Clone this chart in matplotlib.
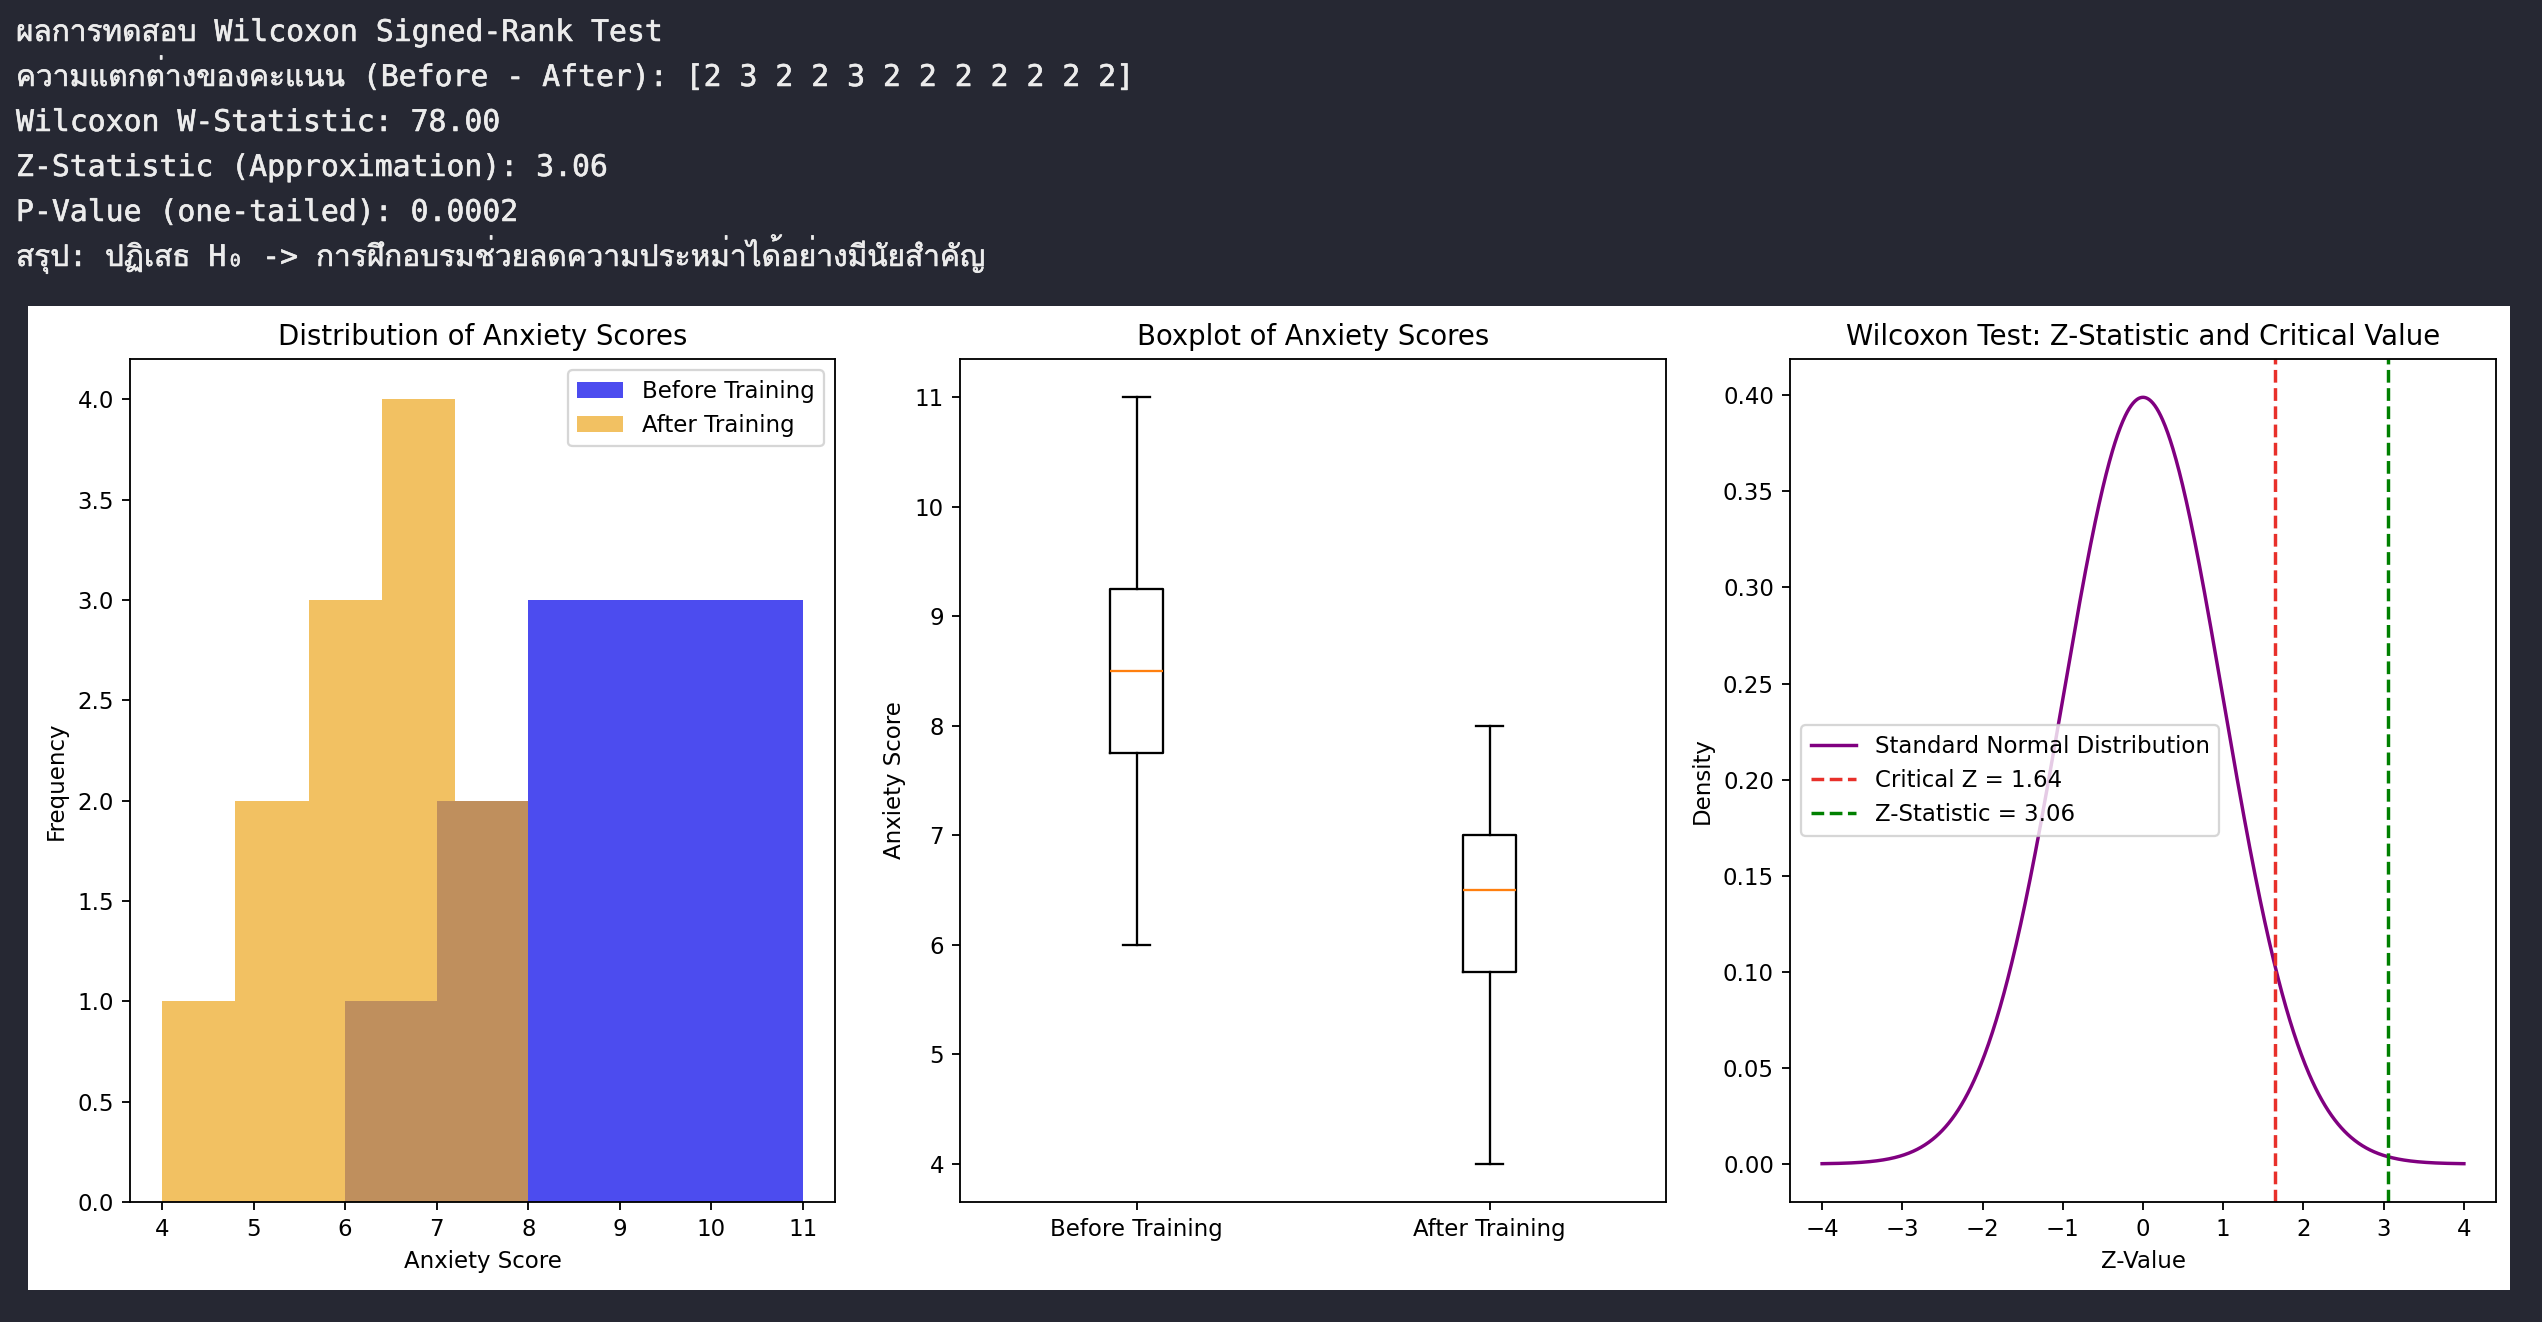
import numpy as np
import matplotlib
matplotlib.use("Agg")
import matplotlib.pyplot as plt
import matplotlib.patheffects as pe
from matplotlib import font_manager
from matplotlib.ft2font import FT2Font
from matplotlib.patches import Rectangle

# anxiety scores of the 12 participants
before = np.array([8, 10, 7, 9, 11, 8, 9, 6, 10, 8, 7, 9])
after = np.array([6, 7, 5, 7, 8, 6, 7, 4, 8, 6, 5, 7])
group_labels = ["Before Training", "After Training"]

w_stat = 78.00
z_stat = 3.06
z_crit = 1.64
p_value = 0.0002

# find a font that can draw Thai, used as fallback for the console text
thai_family = None
for f in font_manager.fontManager.ttflist:
    try:
        if 0x0E01 in FT2Font(f.fname).get_charmap():
            thai_family = f.name
            break
    except Exception:
        pass
mono = ["DejaVu Sans Mono"] + ([thai_family] if thai_family else [])

W, H, DPI = 2542, 1322, 165
fig = plt.figure(figsize=(W / DPI, H / DPI), dpi=DPI)
fig.patch.set_facecolor("#262833")

# white figure block
fig.add_artist(Rectangle((28 / W, 1 - 1290 / H), (2510 - 28) / W, (1290 - 306) / H,
                         transform=fig.transFigure, facecolor="white", edgecolor="none", zorder=0))

# console output
diff = before - after
lines = [
    "ผลการทดสอบ Wilcoxon Signed-Rank Test",
    "ความแตกต่างของคะแนน (Before - After): [" + " ".join(str(d) for d in diff) + "]",
    "Wilcoxon W-Statistic: %.2f" % w_stat,
    "Z-Statistic (Approximation): %.2f" % z_stat,
    "P-Value (one-tailed): %.4f" % p_value,
    "สรุป: ปฏิเสธ H₀ -> การฝึกอบรมช่วยลดความประหม่าได้อย่างมีนัยสำคัญ",
]
for i, s in enumerate(lines):
    fig.text(16 / W, 1 - (41 + 45 * i) / H, s, color="#ececec", fontsize=13,
             family=mono, va="baseline", ha="left",
             path_effects=[pe.withStroke(linewidth=0.25, foreground="#ececec")])


def rect(l, r, t=359, b=1202):
    return [l / W, 1 - b / H, (r - l) / W, (b - t) / H]


# ---------- histogram ----------
ax1 = fig.add_axes(rect(130, 835))
ax1.hist(before, bins=5, alpha=0.7, color="#0000e9", label="Before Training")
ax1.hist(after, bins=5, alpha=0.72, color="#edaa25", label="After Training")
ax1.set_title("Distribution of Anxiety Scores")
ax1.set_xlabel("Anxiety Score")
ax1.set_ylabel("Frequency")
ax1.legend(loc="upper right")

# ---------- boxplot ----------
ax2 = fig.add_axes(rect(960, 1666))
ax2.boxplot([before, after], tick_labels=group_labels)
ax2.set_title("Boxplot of Anxiety Scores")
ax2.set_ylabel("Anxiety Score")

# ---------- normal curve ----------
ax3 = fig.add_axes(rect(1790, 2496))
z = np.linspace(-4, 4, 1000)
pdf = np.exp(-z ** 2 / 2) / np.sqrt(2 * np.pi)
ax3.plot(z, pdf, color="purple", label="Standard Normal Distribution")
ax3.axvline(z_crit, color="#e8302a", linestyle="--", label="Critical Z = %.2f" % z_crit)
ax3.axvline(z_stat, color="green", linestyle="--", label="Z-Statistic = %.2f" % z_stat)
ax3.set_title("Wilcoxon Test: Z-Statistic and Critical Value")
ax3.set_xlabel("Z-Value")
ax3.set_ylabel("Density")
ax3.legend(loc="center left")

fig.savefig("out.png", dpi=DPI, facecolor=fig.get_facecolor())
